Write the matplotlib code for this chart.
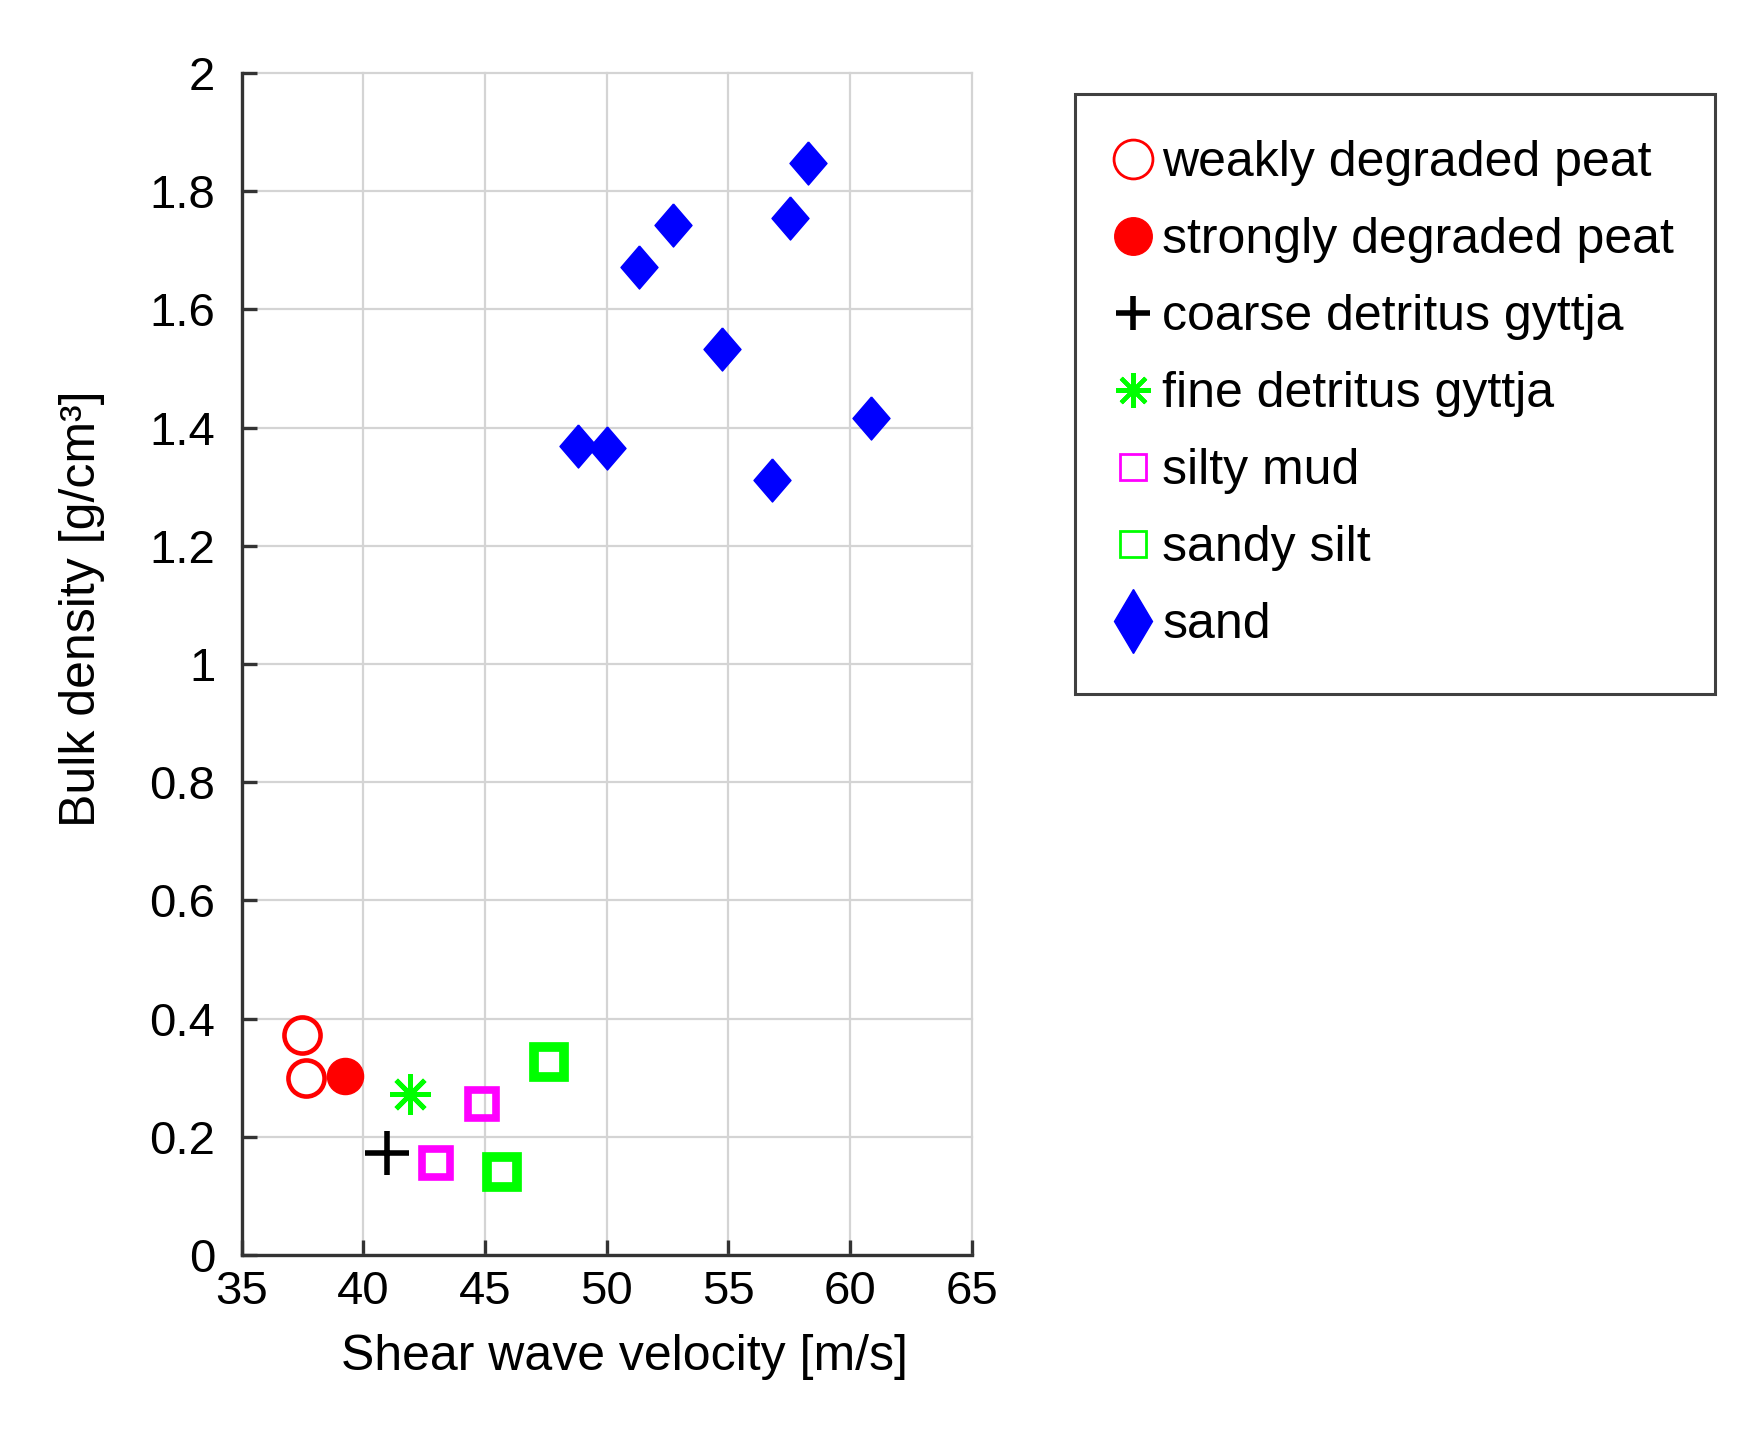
import matplotlib
matplotlib.use("Agg")
import matplotlib.pyplot as plt
from matplotlib.lines import Line2D

plt.rcParams['font.family'] = ['Liberation Sans', 'DejaVu Sans']

# ---- data ----
weak_v = [37.47, 37.64]
weak_d = [0.373, 0.300]
strong_v = [39.25]
strong_d = [0.303]
coarse_v = [40.98]
coarse_d = [0.172]
fine_v = [41.92]
fine_d = [0.273]
silty_v = [44.86, 42.99]
silty_d = [0.255, 0.155]
sandysilt_v = [47.64, 45.69]
sandysilt_d = [0.326, 0.141]
sand_v = [58.26, 57.55, 52.71, 51.34, 54.73, 60.86, 48.81, 50.00, 56.78]
sand_d = [1.848, 1.755, 1.742, 1.672, 1.533, 1.416, 1.369, 1.366, 1.312]

labels = ["weakly degraded peat", "strongly degraded peat", "coarse detritus gyttja",
          "fine detritus gyttja", "silty mud", "sandy silt", "sand"]
xticks = [35, 40, 45, 50, 55, 60, 65]
yticks = [0, 0.2, 0.4, 0.6, 0.8, 1.0, 1.2, 1.4, 1.6, 1.8, 2.0]
yticklabels = ["0", "0.2", "0.4", "0.6", "0.8", "1", "1.2", "1.4", "1.6", "1.8", "2"]

W, H = 1748, 1441
fig = plt.figure(figsize=(W / 100, H / 100), dpi=100)
ax = fig.add_axes([241.7 / W, 1 - 1255 / H, 730 / W, (1255 - 73) / H])

diamond = [(0, 0.5), (0.43, 0), (0, -0.5), (-0.43, 0), (0, 0.5)]
star = (8, 2, 0)

ax.plot(weak_v, weak_d, ls='none', marker='o', ms=26, mfc='none', mec='#ff0000', mew=3.3)
ax.plot(strong_v, strong_d, ls='none', marker='o', ms=26, mfc='#ff0000', mec='#ff0000', mew=1)
ax.plot(coarse_v, coarse_d, ls='none', marker='+', ms=31, mec='black', mew=4)
ax.plot(fine_v, fine_d, ls='none', marker=star, ms=29, mec='#00ff00', mew=3.5)
ax.plot(silty_v, silty_d, ls='none', marker='s', ms=19.5, mfc='none', mec='#ff00ff', mew=5.5)
ax.plot(sandysilt_v, sandysilt_d, ls='none', marker='s', ms=21.5, mfc='none', mec='#00ff00', mew=7)
ax.plot(sand_v, sand_d, ls='none', marker=diamond, ms=31, mfc='#0000ff', mec='#0000ff', mew=1)

ax.set_xlim(35, 65)
ax.set_ylim(0, 2)
ax.set_xticks(xticks)
ax.set_xticklabels([str(t) for t in xticks])
ax.set_yticks(yticks)
ax.set_yticklabels(yticklabels)

ax.set_axisbelow(True)
ax.grid(True, color='#d4d4d4', lw=1.6)
for gl in ax.get_xgridlines() + ax.get_ygridlines():
    gl.set_clip_on(False)

for s in ['top', 'right']:
    ax.spines[s].set_visible(False)
for s in ['left', 'bottom']:
    ax.spines[s].set_color('#333333')
    ax.spines[s].set_linewidth(2.4)

ax.tick_params(axis='both', direction='in', length=11, width=2.4, color='#333333',
               labelsize=34, top=False, right=False)
ax.tick_params(axis='y', pad=19)
ax.tick_params(axis='x', pad=11)

ax.set_xlabel("Shear wave velocity [m/s]", fontsize=36, va='center')
ax.xaxis.set_label_coords(0.525, -0.086)
ax.set_ylabel("Bulk density [g/cm³]", fontsize=36, va='center')
ax.yaxis.set_label_coords(-0.219, 0.547)

handles = [
    Line2D([], [], ls='none', marker='o', ms=28, mfc='none', mec='#ff0000', mew=2),
    Line2D([], [], ls='none', marker='o', ms=27, mfc='#ff0000', mec='#ff0000'),
    Line2D([], [], ls='none', marker='+', ms=25, mec='black', mew=4),
    Line2D([], [], ls='none', marker=star, ms=25, mec='#00ff00', mew=3),
    Line2D([], [], ls='none', marker='s', ms=19, mfc='none', mec='#ff00ff', mew=2),
    Line2D([], [], ls='none', marker='s', ms=19, mfc='none', mec='#00ff00', mew=2),
    Line2D([], [], ls='none', marker='d', ms=33, mfc='#0000ff', mec='#0000ff'),
]
leg_top = 1 - 94 / H
leg = fig.legend(handles, labels, loc='upper left',
                 bbox_to_anchor=(1075 / W, leg_top - 0.01, 640 / W, 0.01),
                 bbox_transform=fig.transFigure, mode='expand', borderaxespad=0,
                 fontsize=36, frameon=True, fancybox=False, framealpha=1,
                 edgecolor='#404040', borderpad=0.92, labelspacing=0.62,
                 handlelength=0.48, handletextpad=0.35)
leg.get_frame().set_linewidth(2.2)

fig.savefig("out.png", dpi=100, facecolor='white')
